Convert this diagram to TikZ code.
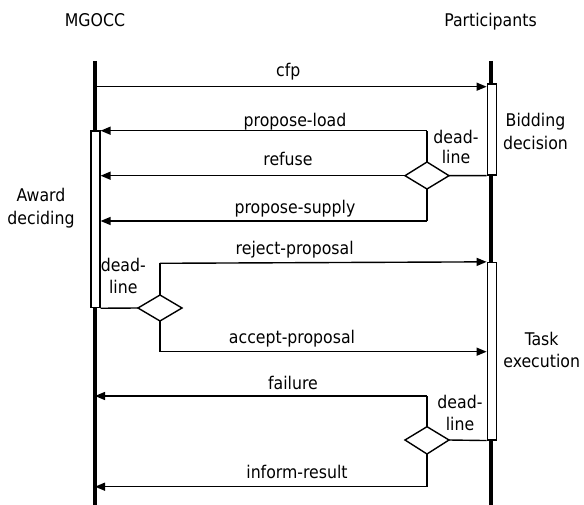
\documentclass[tikz,border=0pt]{standalone}
\usepackage{fontspec}
\setmainfont{DejaVu Sans Condensed}
\usetikzlibrary{arrows.meta}
\begin{document}
\begin{tikzpicture}[x=1pt,y=-1pt,
  lifeline/.style={line width=3.2pt},
  msg/.style={line width=1.4pt,-{Triangle[length=10pt,width=8pt]}},
  conn/.style={line width=1.4pt},
  actbar/.style={draw,line width=1.2pt,fill=white,minimum width=9pt,inner sep=0pt},
  gate/.style={draw,line width=1.4pt,fill=white},
  lbl/.style={font=\fontsize{17.5}{21}\selectfont,inner sep=0pt,anchor=base}]
\useasboundingbox (0,0) rectangle (584,505);
% headers
\node[lbl] (mg) at (95,27) {MGOCC};
\node[lbl] (pa) at (490.5,27) {Participants};
% lifelines
\coordinate (lt) at (95,61); \coordinate (lb) at (95,505);
\coordinate (rt) at (491,61); \coordinate (rb) at (491,505);
\draw[lifeline] (lt) -- (lb);
\draw[lifeline] (rt) -- (rb);
% activation bars
\node[actbar,minimum height=91pt] (bid) at (491.7,129.5) {};
\node[actbar,minimum height=176.7pt] (award) at (95.5,219.3) {};
\node[actbar,minimum height=177.5pt] (task) at (491.7,351.2) {};
% side labels
\node[lbl] (bl1) at (535.5,127) {Bidding};
\node[lbl] (bl2) at (535.5,150) {decision};
\node[lbl] (al1) at (41,201.7) {Award};
\node[lbl] (al2) at (41,225) {deciding};
\node[lbl] (tl1) at (541.7,345) {Task};
\node[lbl] (tl2) at (541.7,367) {execution};
% cfp
\coordinate (cfps) at (95,86.7);
\draw[msg] (cfps) -- (bid.west |- cfps);
\node[lbl] (cfp) at (288.3,77) {cfp};
% diamond 1
\coordinate (d1l) at (405,175.7); \coordinate (d1t) at (427,162);
\coordinate (d1r) at (449,175.7); \coordinate (d1b) at (427,189);
\draw[conn] (d1r) -- (bid.south west);
\coordinate (pl) at (427,130.7);
\draw[conn] (d1t) -- (pl);
\draw[msg] (pl) -- (award.north east |- pl);
\draw[msg] (d1l) -- (award.east |- d1l);
\coordinate (ps) at (427,221);
\draw[conn] (d1b) -- (ps);
\draw[msg] (ps) -- (award.east |- ps);
\draw[gate] (d1l) -- (d1t) -- (d1r) -- (d1b) -- cycle;
\node[lbl] (plt) at (295,126.5) {propose-load};
\node[lbl] (rft) at (288,166) {refuse};
\node[lbl] (pst) at (295,214) {propose-supply};
\node[lbl] (dl1a) at (456,143.3) {dead-};
\node[lbl] (dl1b) at (456,163.3) {line};
% diamond 2
\coordinate (d2l) at (138,308); \coordinate (d2t) at (160,295);
\coordinate (d2r) at (182,308); \coordinate (d2b) at (160,321);
\draw[conn] (award.south east) -- (d2l);
\coordinate (rj) at (160,263.3);
\draw[conn] (d2t) -- (rj);
\draw[msg] (rj) -- (task.north west);
\coordinate (ac) at (160,351.7);
\draw[conn] (d2b) -- (ac);
\draw[msg] (ac) -- (task.west |- ac);
\draw[gate] (d2l) -- (d2t) -- (d2r) -- (d2b) -- cycle;
\node[lbl] (rjt) at (294.7,255) {reject-proposal};
\node[lbl] (act) at (292,343.3) {accept-proposal};
\node[lbl] (dl2a) at (123.3,271.7) {dead-};
\node[lbl] (dl2b) at (123.3,294) {line};
% diamond 3
\coordinate (d3l) at (405,440); \coordinate (d3t) at (427,426.7);
\coordinate (d3r) at (449,440); \coordinate (d3b) at (427,454);
\draw[conn] (d3r) -- (task.south west);
\coordinate (fl) at (427,396);
\draw[conn] (d3t) -- (fl);
\draw[msg] (fl) -- (lt |- fl);
\coordinate (ir) at (427,486.7);
\draw[conn] (d3b) -- (ir);
\draw[msg] (ir) -- (lt |- ir);
\draw[gate] (d3l) -- (d3t) -- (d3r) -- (d3b) -- cycle;
\node[lbl] (flt) at (293,389.3) {failure};
\node[lbl] (irt) at (297,478.3) {inform-result};
\node[lbl] (dl3a) at (460,408.3) {dead-};
\node[lbl] (dl3b) at (460,430.7) {line};
\end{tikzpicture}
\end{document}
